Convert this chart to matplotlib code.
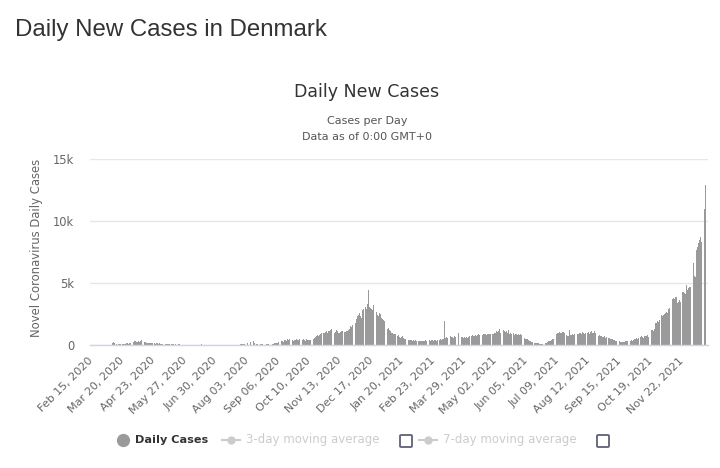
import numpy as np
import matplotlib
matplotlib.use("Agg")
import matplotlib.pyplot as plt
from matplotlib.patches import FancyBboxPatch
from matplotlib.lines import Line2D

plt.rcParams['font.family'] = ['DejaVu Sans']

# ---- data (daily new cases, Feb 15 2020 .. Dec 18 2021) ----
c2020_02 = [0, 0, 0, 0, 0, 0, 0, 0, 0, 0, 0, 1, 2, 1, 3]
c2020_03 = [3, 1, 4, 6, 5, 10, 7, 20, 180, 250, 170, 40, 55, 30, 45, 70, 90, 80, 95, 70,
            80, 70, 100, 130, 140, 120, 180, 130, 170, 210, 260]
c2020_04 = [280, 360, 320, 230, 220, 300, 280, 330, 390, 240, 180, 170, 210, 220, 160,
            170, 180, 150, 140, 130, 150, 170, 160, 140, 120, 150, 130, 110, 130, 120]
c2020_05 = [80, 100, 90, 60, 70, 110, 90, 70, 60, 50, 40, 70, 60, 50, 40, 60, 50, 30, 40,
            60, 50, 40, 35, 30, 25, 30, 40, 30, 25, 20, 30]
c2020_06 = [15, 20, 30, 25, 40, 35, 20, 10, 25, 40, 30, 20, 15, 45, 20, 15, 30, 25, 20,
            15, 10, 30, 20, 15, 40, 30, 25, 20, 15, 10]
c2020_07 = [10, 15, 20, 8, 5, 12, 15, 20, 10, 15, 25, 10, 5, 10, 15, 20, 25, 30, 20, 15,
            30, 40, 35, 50, 45, 30, 60, 70, 65, 80, 60]
c2020_08 = [0, 0, 190, 120, 150, 0, 230, 0, 0, 320, 140, 0, 110, 90, 0, 0, 60, 80, 50,
            70, 40, 0, 0, 90, 60, 70, 80, 50, 0, 0, 110]
c2020_09 = [120, 150, 180, 200, 160, 250, 230, 280, 300, 350, 320, 270, 420, 380, 300,
            450, 390, 460, 400, 420, 480, 380, 350, 420, 440, 460, 410, 380, 500, 480]
c2020_10 = [430, 400, 380, 480, 420, 350, 460, 420, 390, 440, 380, 410, 400, 460, 500,
            540, 620, 700, 780, 760, 820, 900, 940, 860, 880, 1000, 950, 1050, 1100, 1000, 1150]
c2020_11 = [1100, 1200, 1300, 1400, 1250, 1150, 1000, 1050, 1200, 1100, 1000, 950, 1050,
            1100, 1150, 1000, 1200, 1080, 1050, 1150, 1100, 1250, 1300, 1500, 1450, 1600,
            1550, 1600, 2000, 1800]
c2020_12 = [2100, 2300, 2450, 2600, 2300, 2200, 2800, 2900, 3000, 3200, 3100, 2900, 3300,
            4430, 3100, 3000, 2900, 2800, 3200, 2700, 2600, 2500, 2700, 2400, 2300, 2600,
            2500, 2200, 2100, 2000, 1900]
c2021_01 = [1900, 1700, 1500, 1300, 1400, 1200, 1100, 1000, 950, 900, 850, 880, 800, 700,
            750, 780, 650, 600, 620, 700, 550, 500, 520, 480, 450, 500, 420, 400, 380, 430, 350]
c2021_02 = [380, 320, 400, 350, 300, 280, 340, 330, 360, 310, 290, 340, 300, 380, 320,
            350, 400, 360, 370, 330, 390, 420, 360, 380, 400, 350, 410, 420]
c2021_03 = [400, 380, 450, 420, 500, 480, 1950, 600, 650, 550, 700, 620, 580, 700, 650,
            680, 600, 720, 640, 0, 0, 940, 820, 600, 550, 640, 620, 580, 670, 600, 650]
c2021_04 = [600, 650, 700, 620, 680, 750, 800, 700, 760, 820, 700, 780, 850, 800, 750,
            900, 820, 780, 850, 880, 900, 800, 860, 920, 870, 900, 850, 940, 880, 920]
c2021_05 = [950, 1000, 1100, 1050, 1150, 1260, 1000, 1080, 1120, 1000, 1250, 1100, 1050,
            1150, 1000, 1200, 900, 950, 850, 900, 880, 940, 820, 900, 860, 800, 850, 780,
            900, 820, 750]
c2021_06 = [700, 650, 600, 520, 480, 450, 400, 350, 300, 280, 250, 230, 200, 180, 200,
            170, 150, 140, 120, 100, 90, 110, 100, 80, 120, 150, 200, 250, 300, 320]
c2021_07 = [350, 400, 450, 500, 550, 600, 700, 850, 950, 1000, 1050, 1000, 980, 1070,
            1020, 950, 900, 850, 800, 750, 700, 1200, 780, 820, 850, 800, 900, 880, 850, 920, 900]
c2021_08 = [900, 950, 1000, 920, 1050, 980, 900, 1000, 1100, 950, 1000, 1050, 900, 1080,
            1120, 1000, 950, 1100, 1000, 1050, 1250, 800, 750, 780, 700, 720, 650, 680, 700,
            600, 620]
c2021_09 = [650, 600, 550, 580, 520, 480, 450, 400, 380, 350, 300, 280, 250, 300, 320,
            270, 240, 220, 250, 280, 300, 320, 350, 300, 280, 330, 350, 380, 320, 400]
c2021_10 = [450, 500, 550, 520, 600, 580, 650, 620, 700, 680, 600, 720, 750, 700, 780,
            670, 650, 700, 1100, 1200, 1250, 1150, 1300, 1750, 1800, 1900, 1850, 2000, 2150,
            2300, 2400]
c2021_11 = [2300, 2450, 2500, 2600, 2700, 2550, 2900, 3000, 4500, 3100, 2900, 3700, 3800,
            3750, 3900, 3850, 3400, 3500, 3600, 3450, 3550, 4200, 4250, 4300, 4200, 4150,
            4850, 4450, 4600, 4700]
c2021_12 = [4700, 4900, 3300, 7100, 6600, 5600, 5500, 7700, 7900, 8200, 8500, 8700, 8300,
            8800, 11100, 9900, 11000, 12900]

tick_labels = ["Feb 15, 2020", "Mar 20, 2020", "Apr 23, 2020", "May 27, 2020",
               "Jun 30, 2020", "Aug 03, 2020", "Sep 06, 2020", "Oct 10, 2020",
               "Nov 13, 2020", "Dec 17, 2020", "Jan 20, 2021", "Feb 23, 2021",
               "Mar 29, 2021", "May 02, 2021", "Jun 05, 2021", "Jul 09, 2021",
               "Aug 12, 2021", "Sep 15, 2021", "Oct 19, 2021", "Nov 22, 2021"]
y_ticks = [0, 5000, 10000, 15000]
y_tick_labels = ["0", "5k", "10k", "15k"]

cases = np.array(c2020_02 + c2020_03 + c2020_04 + c2020_05 + c2020_06 + c2020_07 +
                 c2020_08 + c2020_09 + c2020_10 + c2020_11 + c2020_12 + c2021_01 +
                 c2021_02 + c2021_03 + c2021_04 + c2021_05 + c2021_06 + c2021_07 +
                 c2021_08 + c2021_09 + c2021_10 + c2021_11 + c2021_12)
idx = np.arange(len(cases))
tick_step = 34

W, H = 720, 468
fig = plt.figure(figsize=(W / 100, H / 100), dpi=100)
fig.patch.set_facecolor('white')

def fx(px):
    return px / W

def fy(py):
    return 1 - py / H

ax = fig.add_axes([fx(90), fy(345), fx(618), 186 / H])
ax.bar(idx, cases, width=0.85, color='#9a9a9a', linewidth=0, zorder=2)
ax.set_xlim(-2, len(cases) + 1.5)
ax.set_ylim(0, 15000)
ax.set_yticks(y_ticks)
ax.set_yticklabels(y_tick_labels)
ax.grid(axis='y', color='#e6e6e6', linewidth=1, zorder=0)
ax.set_axisbelow(True)
for s in ['top', 'right', 'left']:
    ax.spines[s].set_visible(False)
ax.spines['bottom'].set_color('#ccd6eb')
ax.spines['bottom'].set_linewidth(1)
ax.tick_params(axis='y', length=0, pad=11.5, labelcolor='#666666', labelsize=8.3)
ax.set_xticks(np.arange(len(tick_labels)) * tick_step)
ax.set_xticklabels(tick_labels, rotation=45, ha='right', va='center',
                   rotation_mode='anchor', fontsize=8, color='#666666')
ax.tick_params(axis='x', length=0, pad=10)

# titles
fig.text(fx(15), fy(30), "Daily New Cases in Denmark", fontsize=17.3,
         family='Liberation Sans', color='#333333', va='center', ha='left')
fig.text(fx(367), fy(92), "Daily New Cases", fontsize=12.5, color='#333333',
         ha='center', va='center')
fig.text(fx(367), fy(121), "Cases per Day", fontsize=8, color='#555555',
         ha='center', va='center')
fig.text(fx(367), fy(137), "Data as of 0:00 GMT+0", fontsize=8, color='#555555',
         ha='center', va='center')
fig.text(fx(37), fy(248), "Novel Coronavirus Daily Cases", fontsize=8.4,
         color='#666666', rotation=90, ha='center', va='center')

# legend
ly = fy(440)
fig.add_artist(Line2D([fx(123)], [ly], marker='o', markersize=8.5,
                      color='#9a9a9a', transform=fig.transFigure))
fig.text(fx(135), ly, "Daily Cases", fontsize=8.1, fontweight='bold',
         color='#333333', ha='left', va='center')
for sx, tx, bx, label in [(222, 246, 400, "3-day moving average"),
                          (419, 443, 597, "7-day moving average")]:
    fig.add_artist(Line2D([fx(sx), fx(sx + 18)], [ly, ly], color='#cccccc',
                          linewidth=1.5, transform=fig.transFigure))
    fig.add_artist(Line2D([fx(sx + 9)], [ly], marker='o', markersize=5,
                          color='#cccccc', transform=fig.transFigure))
    fig.text(fx(tx), ly, label, fontsize=8.5, color='#cccccc',
             ha='left', va='center')
    fig.add_artist(FancyBboxPatch((fx(bx), fy(447)), fx(12), 12 / H,
                                  boxstyle='round,pad=0,rounding_size=0.002',
                                  facecolor='white', edgecolor='#6b6b80',
                                  linewidth=1.4, transform=fig.transFigure))

fig.savefig("out.png", dpi=100, facecolor='white')
